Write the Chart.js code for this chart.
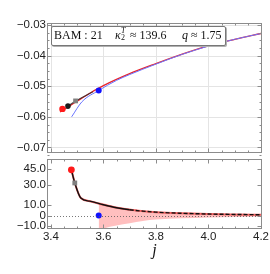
<!DOCTYPE html>
<html>
<head>
<meta charset="utf-8">
<script src="https://cdn.jsdelivr.net/npm/chart.js@4/dist/chart.umd.min.js"></script>
<style>
  html, body { margin: 0; padding: 0; background: #fff; }
  #wrap { position: relative; width: 270px; height: 274px; overflow: hidden; }
  canvas { position: absolute; left: 0; }
  #topc { top: 0; }
  #botc { top: 156px; }
  #box { position: absolute; left: 51px; top: 26px; width: 175px; height: 20px; box-sizing: border-box;
         border: 1px solid #777; border-radius: 2px; background: #fff; box-shadow: 1px 1px 0 #b0b0b0; }
  .lg { position: absolute; font-family: 'Liberation Serif', serif; color: #111; white-space: nowrap; line-height: normal; }
</style>
</head>
<body>
<div id="wrap">
  <canvas id="topc" width="270" height="157"></canvas>
  <canvas id="botc" width="270" height="118"></canvas>
  <div id="box"></div>
  <span class="lg" style="left:54px;top:28px;font-size:12px">BAM : 21</span>
  <span class="lg" style="left:115px;top:28px;font-size:12px;font-style:italic">κ</span>
  <span class="lg" style="left:121px;top:26px;font-size:8px;font-style:italic">T</span>
  <span class="lg" style="left:121px;top:33px;font-size:8px">2</span>
  <span class="lg" style="left:130px;top:28px;font-size:12px">≈ 139.6</span>
  <span class="lg" style="left:182px;top:28px;font-size:12px;font-style:italic">q</span>
  <span class="lg" style="left:191px;top:28px;font-size:12px">≈ 1.75</span>
</div>
<script>
// x range shared by both panels
const X_MIN = 3.389, X_MAX = 4.2;
const xTicks = [3.4, 3.6, 3.8, 4.0, 4.2];

// top panel
const topTicks = [-0.07, -0.06, -0.05, -0.04, -0.03];
const redJ  = [3.435, 3.45, 3.47, 3.496, 3.55, 3.6, 3.7, 3.8, 3.9, 4.0, 4.1, 4.2];
const redV  = [-0.0584, -0.0576, -0.0565, -0.0551, -0.0522, -0.0498, -0.0459, -0.0426, -0.0395, -0.0368, -0.0347, -0.0328];
const blueJ = [3.479, 3.518, 3.582, 3.65, 3.7, 3.8, 3.9, 4.0, 4.1, 4.2];
const blueV = [-0.0600, -0.0551, -0.0514, -0.0481, -0.0462, -0.0428, -0.0396, -0.0369, -0.0347, -0.0328];
const blackTopJ = [3.465, 3.494, 3.56];
const blackTopV = [-0.0565, -0.0548, -0.0518];
// markers: red, black, gray, blue
const markTopJ = [3.444, 3.465, 3.494, 3.582];
const markTopV = [-0.0574, -0.0565, -0.0548, -0.0514];

// bottom panel
const botTicks = [-10, 0, 10, 30, 45];
const curveJ = [3.478, 3.491, 3.514, 3.548, 3.6, 3.65, 3.7, 3.75, 3.8, 3.9, 4.0, 4.1, 4.2];
const curveV = [44.5, 31.7, 17, 14, 10.5, 7.6, 5.6, 4.3, 3.3, 2.2, 1.5, 1.1, 0.8];
const bandJ  = [3.582, 3.6, 3.65, 3.7, 3.75, 3.8, 3.9, 4.0, 4.1, 4.2];
const bandHi = [13.3, 12.0, 8.8, 6.8, 4.8, 3.4, 2.5, 1.9, 1.3, 0.9];
const bandLo = [-14, -12.5, -9.6, -7.4, -5.2, -3.8, -2.7, -1.9, -1.3, -0.9];
// markers: red, gray, blue
const markBotJ = [3.478, 3.491, 3.582];
const markBotV = [44.5, 31.7, 0];

const xy = (js, vs) => js.map((j, i) => ({ x: j, y: vs[i] }));
const tickFont = { family: "'Liberation Sans', Arial, sans-serif", size: 11.5 };
const tickColor = '#222';
const minus = s => s.replace('-', '\u2212');

// frame with inward ticks (Mathematica style), grid, optional dotted zero line
const framePlugin = {
  id: 'frame',
  beforeDatasetsDraw(chart, args, o) {
    if (!o.grid) return;
    const { ctx, chartArea: a, scales: { x, y } } = chart;
    ctx.save();
    ctx.strokeStyle = '#e4e4e4'; ctx.lineWidth = 1;
    ctx.beginPath();
    xTicks.forEach(v => { const p = Math.round(x.getPixelForValue(v)) + 0.5; ctx.moveTo(p, a.top); ctx.lineTo(p, a.bottom); });
    o.yTicks.forEach(v => { const p = Math.round(y.getPixelForValue(v)) + 0.5; ctx.moveTo(a.left, p); ctx.lineTo(a.right, p); });
    ctx.stroke();
    ctx.restore();
  },
  afterDraw(chart, args, o) {
    const { ctx, chartArea: a, scales: { x, y } } = chart;
    ctx.save();
    if (o.zero) {
      const y0 = Math.round(y.getPixelForValue(0)) + 0.5;
      ctx.strokeStyle = '#555'; ctx.lineWidth = 0.8; ctx.setLineDash([1, 2]);
      ctx.beginPath(); ctx.moveTo(a.left, y0); ctx.lineTo(a.right, y0); ctx.stroke();
      ctx.setLineDash([]);
    }
    ctx.strokeStyle = '#8c8c8c'; ctx.lineWidth = 1;
    const l = a.left - 0.5, r = a.right + 0.5, t = a.top - 0.5, b = a.bottom - 0.5;
    ctx.strokeRect(l, t, r - l, b - t);
    ctx.beginPath();
    const xt = (v, len) => { const p = Math.round(x.getPixelForValue(v)) + 0.5;
      ctx.moveTo(p, b); ctx.lineTo(p, b - len); ctx.moveTo(p, t); ctx.lineTo(p, t + len); };
    const yt = (v, len) => { const p = Math.round(y.getPixelForValue(v)) + 0.5;
      ctx.moveTo(l, p); ctx.lineTo(l + len, p); ctx.moveTo(r, p); ctx.lineTo(r - len, p); };
    xTicks.forEach(v => xt(v, 4));
    for (let v = 3.45; v < 4.2; v += 0.05) if (Math.abs((v * 5) - Math.round(v * 5)) > 1e-6) xt(v, 2);
    o.yTicks.forEach(v => yt(v, 4));
    if (o.yMinor) {
      for (let v = y.min; v <= y.max; v += o.yMinor) yt(Math.round(v / o.yMinor) * o.yMinor, 2);
    }
    ctx.stroke();
    ctx.restore();
  }
};

function options(c) {
  return {
    responsive: false, animation: false, events: [],
    layout: { padding: c.pad },
    plugins: { legend: { display: false }, tooltip: { enabled: false }, frame: c.frame },
    scales: {
      x: {
        type: 'linear', min: X_MIN, max: X_MAX, display: c.xlabels,
        afterBuildTicks: s => { s.ticks = xTicks.map(v => ({ value: v })); },
        afterFit: s => { s.height = c.xh; s.paddingLeft = 0; s.paddingRight = 0; },
        grid: { display: false, drawTicks: false },
        border: { display: false },
        ticks: { padding: 1, font: tickFont, color: tickColor, autoSkip: false, maxRotation: 0,
                 callback: v => v.toFixed(1) },
        title: { display: true, text: 'j', color: '#111', padding: { top: 0, bottom: 14 },
                 font: { family: "'Liberation Serif', serif", size: 16, style: 'italic' } }
      },
      y: {
        type: 'linear', min: c.ymin, max: c.ymax,
        afterBuildTicks: s => { s.ticks = c.yTicks.map(v => ({ value: v })); },
        afterFit: s => { s.width = 48; s.paddingTop = 0; s.paddingBottom = 0; },
        grid: { display: false, drawTicks: false },
        border: { display: false },
        ticks: { padding: 2, font: tickFont, color: tickColor, autoSkip: false, callback: c.fmt }
      }
    }
  };
}

new Chart(document.getElementById('topc'), {
  type: 'line',
  data: { datasets: [
    { data: xy(markTopJ, markTopV), showLine: false, order: 0,
      pointBackgroundColor: ['#ff1a1a', '#1a1a1a', '#808080', '#1010ff'],
      pointBorderWidth: 0, pointStyle: ['circle', 'circle', 'rect', 'circle'], pointRadius: [3.2, 2.8, 3.4, 3] },
    { data: xy(blackTopJ, blackTopV), order: 1, borderColor: 'rgba(40,40,40,0.8)', borderWidth: 1.2,
      pointRadius: 0, clip: 0 },
    { data: xy(blueJ, blueV), order: 2, borderColor: '#6a74ff', borderWidth: 1,
      pointRadius: 0, cubicInterpolationMode: 'monotone', clip: 0 },
    { data: xy(redJ, redV), order: 3, borderColor: '#e8232b', borderWidth: 1.3,
      pointRadius: 0, cubicInterpolationMode: 'monotone', clip: 0 }
  ]},
  options: options({ pad: { top: 24, right: 9, left: 0, bottom: 1 }, xh: 0, xlabels: false,
    ymin: -0.0718, ymax: -0.0297, yTicks: topTicks, fmt: v => minus(v.toFixed(2)),
    frame: { grid: true, yTicks: topTicks, yMinor: 0.0025 } }),
  plugins: [framePlugin]
});

new Chart(document.getElementById('botc'), {
  type: 'line',
  data: { datasets: [
    { data: xy(markBotJ, markBotV), showLine: false, order: 0,
      pointBackgroundColor: ['#ff1a1a', '#808080', '#1010ff'],
      pointBorderWidth: 0, pointStyle: ['circle', 'rect', 'circle'], pointRadius: [3.4, 3.4, 3] },
    { data: xy(curveJ, curveV), order: 1, borderColor: '#111', borderWidth: 1.4,
      pointRadius: 0, cubicInterpolationMode: 'monotone', clip: 0,
      segment: { borderDash: s => s.p0.parsed.x >= 3.7 ? [4, 2] : undefined } },
    { data: xy(curveJ, curveV), order: 2, borderColor: '#f06060', borderWidth: 2,
      pointRadius: 0, cubicInterpolationMode: 'monotone', clip: 0 },
    { data: xy(bandLo, bandLo).map((p, i) => ({ x: bandJ[i], y: bandLo[i] })), order: 4, borderWidth: 0,
      pointRadius: 0, cubicInterpolationMode: 'monotone', fill: false },
    { data: xy(bandJ, bandHi), order: 3, borderWidth: 0, pointRadius: 0,
      cubicInterpolationMode: 'monotone', fill: '-1', backgroundColor: 'rgba(255,170,170,0.75)' }
  ]},
  options: options({ pad: { top: 1, right: 9, left: 0, bottom: 0 }, xh: 45, xlabels: true,
    ymin: -13.05, ymax: 54, yTicks: botTicks, fmt: v => v === 0 ? '0' : minus(v.toFixed(1)),
    frame: { grid: false, yTicks: botTicks, yMinor: 0, zero: true } }),
  plugins: [framePlugin]
});
</script>
</body>
</html>
